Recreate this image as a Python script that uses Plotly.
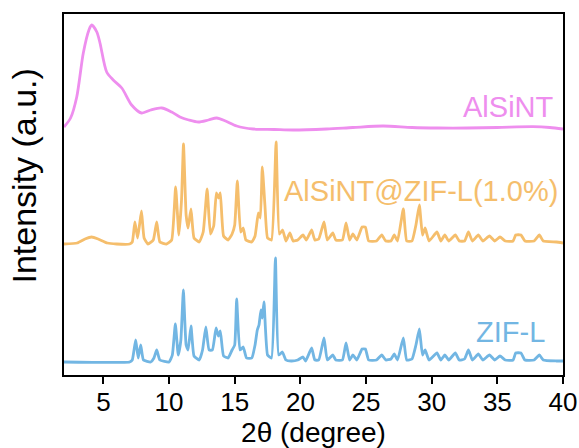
import plotly.graph_objects as go

# 2theta positions and intensities (a.u., stacked with offsets as in the figure)
alsint_x = [2.0, 2.5, 2.97, 3.47, 3.9, 4.11, 4.5, 4.74, 5.25, 5.75, 6.4, 7.15, 7.9, 8.6, 9.44,
            10.2, 10.83, 11.5, 12.23, 13.0, 13.63, 14.3, 15.15, 16.4, 18.0, 19.45, 22.0, 24.0,
            26.3, 28.5, 30.5, 32.7, 35.0, 37.7, 39.0, 40.0]
alsint_y = [248, 257, 278, 322, 345, 350, 343, 332, 303, 295, 287, 270, 262, 265, 267,
            263, 258, 255, 253, 255, 257, 254, 249, 246, 245.5, 245, 246, 247.5,
            249, 247.5, 247, 247, 247.5, 248.3, 247.5, 246]

comp_x = [2.0, 3.0, 3.6, 4.1, 4.6, 5.3, 6.0, 7.0, 7.2, 7.4, 7.6, 7.75, 7.9, 8.1, 8.4, 8.8, 9.06,
          9.3, 9.8, 10.2, 10.5, 10.75, 10.95, 11.1, 11.3, 11.45, 11.67, 11.9, 12.3, 12.6, 12.9,
          13.15, 13.4, 13.6, 13.75, 13.9, 14.15, 14.5, 14.8, 15.0, 15.2, 15.45, 15.65, 15.85,
          16.3, 16.55, 16.8, 16.95, 17.1, 17.3, 17.5, 17.8, 18.15, 18.4, 18.65, 18.9, 19.2,
          19.45, 19.8, 20.2, 20.45, 20.86, 21.1, 21.4, 21.8, 22.05, 22.47, 22.7, 23.2, 23.48,
          23.75, 24.0, 24.3, 24.7, 24.95, 25.2, 25.8, 26.2, 26.5, 26.9, 27.15, 27.4, 27.84,
          28.1, 28.5, 28.8, 29.06, 29.3, 29.5, 29.8, 30.4, 30.7, 31.0, 31.3, 31.8, 32.1, 32.5,
          32.8, 33.1, 33.55, 33.9, 34.4, 34.8, 35.2, 35.6, 36.2, 36.4, 36.8, 37.1, 37.8, 38.2,
          38.5, 39.5, 40.0]
comp_y = [131, 132, 136, 138, 136, 132, 131, 131, 133, 153, 137, 150, 164, 137, 131, 135, 153,
          133, 131, 135, 188, 140, 175, 231, 160, 147, 166, 137, 133, 143, 186,
          141, 149, 182, 177, 182, 139, 135, 141, 150, 194, 143, 147, 135,
          133, 139, 162, 157, 208, 170, 137, 135, 233, 141, 145, 134, 142,
          134, 135, 140, 135, 145, 135, 136, 153, 135, 142, 135, 135, 152,
          135, 141, 135, 148, 148, 134, 134, 140, 134, 134, 140, 134, 166,
          134, 134, 150, 170, 140, 147, 134, 143, 134, 140, 134, 140, 134, 134,
          143, 134, 140, 134, 139, 134, 138, 134, 134, 140, 140, 134, 134, 140,
          134, 133, 132]

zifl_x = [2.0, 7.0, 7.2, 7.46, 7.65, 7.84, 8.05, 8.6, 8.85, 9.06, 9.3, 10.0, 10.25, 10.48, 10.7,
          10.9, 11.09, 11.3, 11.45, 11.67, 11.9, 12.3, 12.55, 12.8, 13.05, 13.3, 13.58, 13.75,
          13.9, 14.15, 14.5, 14.8, 15.0, 15.15, 15.4, 15.65, 15.9, 16.3, 16.55, 16.72, 16.85,
          17.0, 17.1, 17.23, 17.5, 17.8, 18.1, 18.35, 18.63, 18.9, 19.3, 19.8, 20.2, 20.4,
          20.86, 21.1, 21.4, 21.8, 22.05, 22.47, 22.7, 23.2, 23.48, 23.75, 24.0, 24.3, 24.7,
          24.95, 25.2, 25.8, 26.2, 26.5, 26.9, 27.15, 27.4, 27.84, 28.1, 28.5, 28.8, 29.06,
          29.3, 29.5, 29.8, 30.4, 30.7, 31.0, 31.3, 31.8, 32.1, 32.5, 32.8, 33.1, 33.55, 33.9,
          34.4, 34.8, 35.2, 35.6, 36.2, 36.4, 36.8, 37.1, 37.8, 38.2, 38.5, 39.5, 40.0]
zifl_y = [13, 13, 15, 35, 17, 30, 15, 13, 17, 25, 15, 13, 20, 51, 20,
          35, 85, 30, 25, 49, 19, 15, 25, 48, 25, 25, 47, 39,
          44, 19, 17, 25, 30, 76, 25, 28, 17, 17, 30, 45, 50,
          65, 57, 73, 20, 17, 117, 20, 23, 15, 14, 15, 18, 14,
          27, 15, 15, 37, 15, 20, 15, 15, 32, 15, 20, 15, 26,
          26, 15, 15, 20, 15, 16, 21, 15, 37, 15, 16, 30, 46,
          20, 25, 15, 22, 15, 20, 15, 22, 15, 16, 25, 15, 21, 15,
          20, 15, 19, 15, 15, 22, 22, 15, 15, 20, 15, 14, 14]

names = ["AlSiNT", "AlSiNT@ZIF-L(1.0%)", "ZIF-L"]
colors = ["#EE8EEE", "#F5BE6C", "#72B6E3"]
label_x = [39.5, 39.8, 38.8]
label_y = [268, 184, 43]
x_ticks = [5, 10, 15, 20, 25, 30, 35, 40]

FAM = "Liberation Sans, Arial"

fig = go.Figure()
fig.add_trace(go.Scatter(x=alsint_x, y=alsint_y, mode="lines", name=names[0],
                         line=dict(color=colors[0], width=2.8, shape="spline", smoothing=0.8)))
fig.add_trace(go.Scatter(x=comp_x, y=comp_y, mode="lines", name=names[1],
                         line=dict(color=colors[1], width=2.8, shape="spline", smoothing=0.4)))
fig.add_trace(go.Scatter(x=zifl_x, y=zifl_y, mode="lines", name=names[2],
                         line=dict(color=colors[2], width=2.8, shape="spline", smoothing=0.4)))

for name, c, lx, ly in zip(names, colors, label_x, label_y):
    fig.add_annotation(x=lx, y=ly, text=name, showarrow=False, xanchor="right", yanchor="middle",
                       font=dict(family=FAM, size=29, color=c))

# y-axis title placed as rotated annotation (slightly above plot centre, as in the figure)
fig.add_annotation(xref="paper", yref="paper", x=-0.08, y=0.55, text="Intensity (a.u.)",
                   textangle=-90, showarrow=False, xanchor="center", yanchor="middle",
                   font=dict(family=FAM, size=34, color="black"))

fig.update_layout(
    width=579, height=448,
    margin=dict(l=64, r=16, t=14, b=73),
    plot_bgcolor="white", paper_bgcolor="white",
    showlegend=False,
    font=dict(family=FAM, size=24, color="black"),
    xaxis=dict(range=[2, 40], tickvals=x_ticks, ticks="outside", ticklen=7, tickwidth=2,
               tickcolor="black", showline=True, linecolor="black", linewidth=2, mirror=True,
               showgrid=False, zeroline=False, automargin=False, ticklabelstandoff=-4,
               title=dict(text="2θ (degree)", standoff=3,
                          font=dict(family=FAM, size=28, color="black")),
               tickfont=dict(family=FAM, size=26, color="black")),
    yaxis=dict(range=[0, 361], showticklabels=False, ticks="", showline=True, linecolor="black",
               linewidth=2, mirror=True, showgrid=False, zeroline=False, automargin=False),
)

fig.write_html("out.html")
